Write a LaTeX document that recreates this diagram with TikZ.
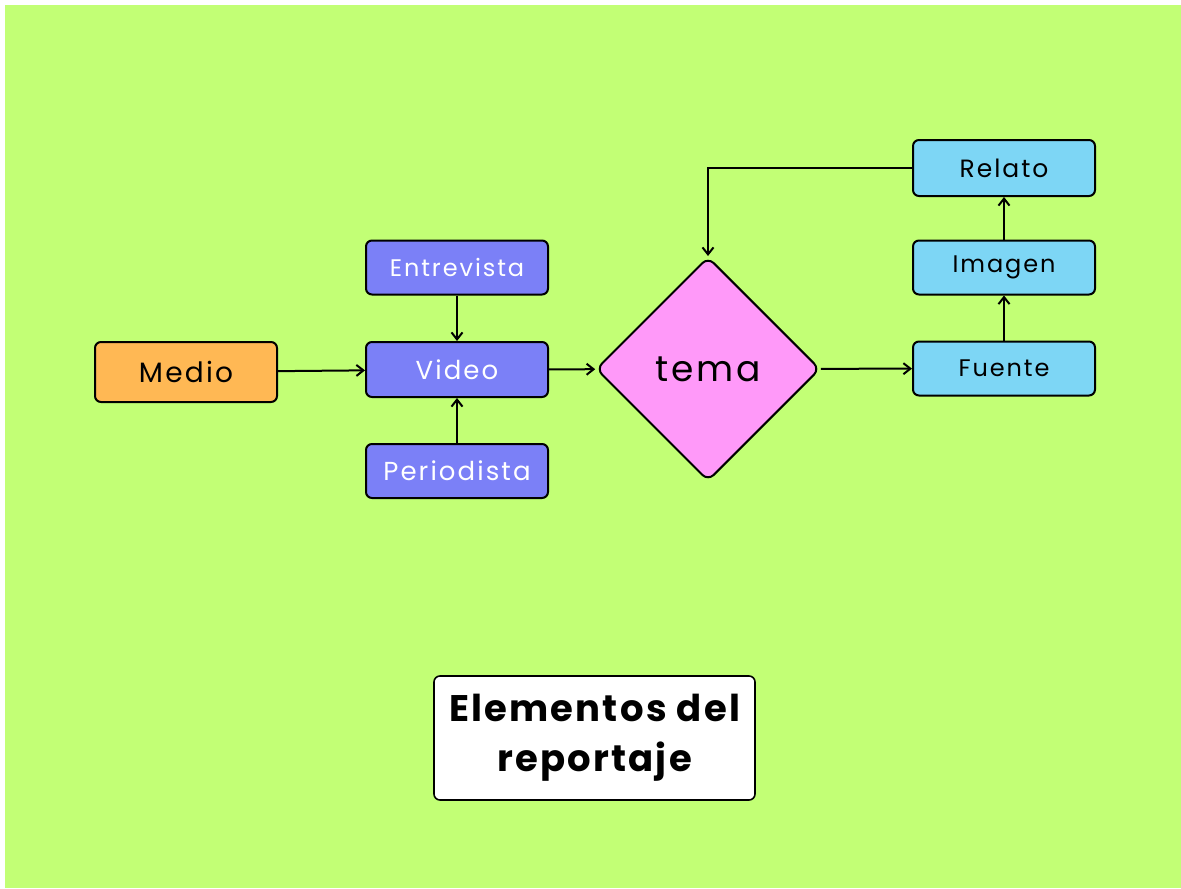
\documentclass[tikz,border=0pt]{standalone}
\usepackage{fontspec}
\setmainfont{Poppins}[LetterSpace=8]
\usetikzlibrary{arrows.meta, shapes.geometric}
\definecolor{fondo}{RGB}{194,255,117}
\definecolor{naranja}{RGB}{255,184,84}
\definecolor{morado}{RGB}{123,128,247}
\definecolor{celeste}{RGB}{125,214,245}
\definecolor{rosa}{RGB}{255,153,249}

\begin{document}
\begin{tikzpicture}[x=0.5pt, y=-0.5pt,
  >={Straight Barb[length=3.5pt,width=5.5pt]},
  caja/.style={draw, line width=1pt, rounded corners=3pt, minimum width=91pt, minimum height=27pt, inner sep=0pt},
  flecha/.style={->, line width=1pt}]
\useasboundingbox (0,0) rectangle (1181,888);
\fill[fondo] (5,5) rectangle (1181,888);
% nodos
\node[caja, fill=naranja, minimum height=30pt, font=\fontsize{14}{16}\selectfont] (medio) at (186,372) {Medio};
\node[caja, fill=morado, text=white, font=\fontsize{12}{14}\selectfont] (entrevista) at (457,267.5) {Entrevista};
\node[caja, fill=morado, text=white, minimum height=27.5pt, font=\fontsize{13}{15}\selectfont] (video) at (457,369.5) {Video};
\node[caja, fill=morado, text=white, font=\fontsize{13}{15}\selectfont] (periodista) at (457,471) {Periodista};
\node[diamond, draw, line width=1pt, rounded corners=4pt, fill=rosa, minimum size=112pt, inner sep=0pt, font=\fontsize{18}{20}\selectfont] (tema) at (708,369) {tema};
\node[caja, fill=celeste, minimum height=28pt, font=\fontsize{12.5}{14}\selectfont] (relato) at (1004,168) {Relato};
\node[caja, fill=celeste, font=\fontsize{12}{14}\selectfont] (imagen) at (1004,267.5) {Imagen};
\node[caja, fill=celeste, font=\fontsize{12}{14}\selectfont] (fuente) at (1004,368.5) {Fuente};
\node[caja, fill=white, line width=0.8pt, minimum width=160.5pt, minimum height=62pt, align=center, font=\fontsize{18.5}{25}\selectfont\bfseries\addfontfeature{LetterSpace=6}] (titulo) at (594.5,738) {Elementos del\\reportaje};
% flechas
\draw[flecha] (medio) -- (video);
\draw[flecha] (entrevista) -- (video);
\draw[flecha] (periodista) -- (video);
\draw[flecha] (video) -- (tema);
\draw[flecha] (tema) -- (fuente);
\draw[flecha] (fuente) -- (imagen);
\draw[flecha] (imagen) -- (relato);
\draw[flecha] (relato.west) -| (tema.north);
\end{tikzpicture}
\end{document}
